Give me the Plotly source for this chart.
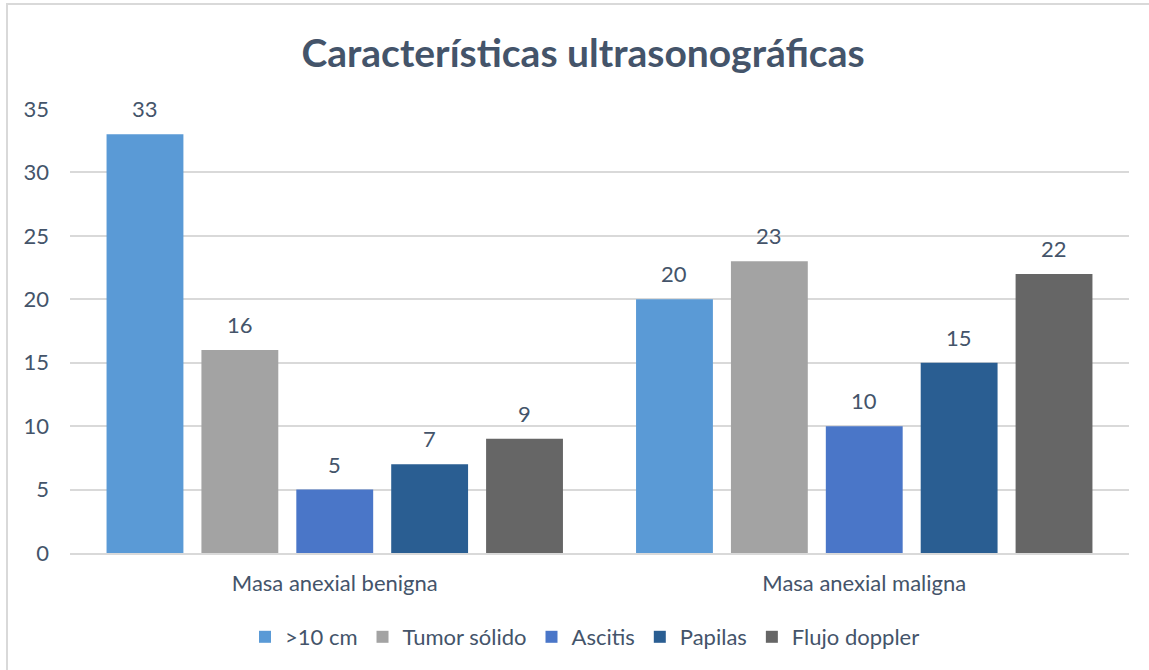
import plotly.graph_objects as go

categories = ["Masa anexial benigna", "Masa anexial maligna"]
series_names = [">10 cm", "Tumor sólido", "Ascitis", "Papilas", "Flujo doppler"]
v_gt10 = [33, 20]
v_tumor = [16, 23]
v_ascitis = [5, 10]
v_papilas = [7, 15]
v_flujo = [9, 22]
series_values = [v_gt10, v_tumor, v_ascitis, v_papilas, v_flujo]
colors = ["#5A9AD6", "#A3A3A3", "#4A76C8", "#2A5E92", "#666666"]
y_ticks = [0, 5, 10, 15, 20, 25, 30, 35]

TXT = "#44546A"
FONT = "Lato, Carlito, Calibri, sans-serif"
bargap = 0.104
bargroupgap = 0.19

L, R, T, B = 70, 20, 109, 117
W, H = 1149, 670
PW, PH = W - L - R, H - T - B

xs = list(range(len(categories)))
fig = go.Figure()
for name, vals, col in zip(series_names, series_values, colors):
    fig.add_trace(go.Bar(x=xs, y=vals, name=name, marker=dict(color=col, line=dict(width=0))))

# data labels computed from data and bar layout
n = len(series_names)
slot = (1 - bargap) / n
for j, vals in enumerate(series_values):
    for i, v in enumerate(vals):
        fig.add_annotation(x=xs[i] + (j - (n - 1) / 2) * slot, y=v, xref="x", yref="y",
                           text=str(v), showarrow=False, yanchor="bottom", yshift=10,
                           font=dict(size=22, color=TXT, family=FONT))

# chart border (left & top visible)
fig.add_shape(type="rect", xref="paper", yref="paper",
              x0=(7 - L) / PW, x1=(1170 - L) / PW,
              y0=(H - B - 690) / PH, y1=(H - B - 4) / PH,
              line=dict(color="#D9D9D9", width=2), layer="below")

fig.update_layout(
    width=W, height=H,
    margin=dict(l=L, r=R, t=T, b=B, autoexpand=False),
    paper_bgcolor="white", plot_bgcolor="white",
    barmode="group", bargap=bargap, bargroupgap=bargroupgap,
    title=dict(text="<b>Características ultrasonográficas</b>", x=583 / W, xref="container",
               xanchor="center", y=1 - 53 / H, yref="container", yanchor="middle",
               font=dict(size=39, color=TXT, family=FONT)),
    font=dict(family=FONT, color=TXT, size=22),
    legend=dict(orientation="h", x=(585 - L) / PW, xanchor="center", y=(H - B - 637) / PH,
                yanchor="middle", font=dict(size=22, color=TXT, family=FONT),
                itemwidth=30, tracegroupgap=0),
    showlegend=True,
)
fig.update_xaxes(tickvals=xs, ticktext=categories, range=[-0.5, len(categories) - 0.5],
                 showgrid=False, showline=True, linecolor="#D9D9D9", linewidth=2,
                 ticks="", ticklabelstandoff=10, automargin=False,
                 tickfont=dict(size=22, color=TXT))
fig.update_yaxes(range=[0, 35], tickvals=y_ticks, showgrid=True, gridcolor="#D9D9D9",
                 gridwidth=1.5, zeroline=False, showline=False, ticks="",
                 ticklabelstandoff=20, automargin=False, tickfont=dict(size=22, color=TXT))

fig.write_html("out.html", config={"displayModeBar": False},
               post_script="document.body.style.margin='0';")
